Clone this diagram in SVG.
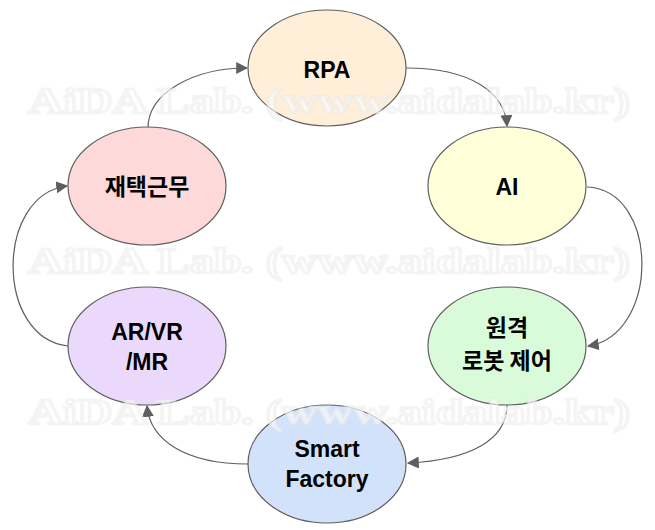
<svg xmlns="http://www.w3.org/2000/svg" width="655" height="530" viewBox="0 0 655 530">
<style>
.node{stroke:#5f5f5f;stroke-width:1.2}
.lbl{font-family:"Liberation Sans","Noto Sans CJK KR",Arial,sans-serif;font-weight:bold;font-size:23px;fill:#000;text-anchor:middle}
.ko{font-family:"Noto Sans CJK KR","Liberation Sans",sans-serif;font-size:23px}
.edge{fill:none;stroke:#5f5f5f;stroke-width:1.2;marker-end:url(#arr)}
.wm{font-family:"Liberation Serif","DejaVu Serif",serif;font-weight:bold;font-size:36px;fill:#ffffff;fill-opacity:0.6;stroke:#e9e9e9;stroke-opacity:0.5;stroke-width:2.5}
</style>
<defs>
<marker id="arr" viewBox="0 0 10 10" refX="9" refY="5" markerWidth="12" markerHeight="12" markerUnits="userSpaceOnUse" orient="auto">
<path d="M0,0 L10,5 L0,10 z" fill="#5f5f5f"/>
</marker>
</defs>
<rect width="655" height="530" fill="#ffffff"/>
<g id="connectors">
<path class="edge" d="M148,128 C148,92 195,68 247,68"/>
<path class="edge" d="M406,68 C470,68 505,92 507,126"/>
<path class="edge" d="M587,187 C660,190 660,335 588,346"/>
<path class="edge" d="M507,405 C507,440 470,460 408,463"/>
<path class="edge" d="M248,464 C185,464 150,440 147,406"/>
<path class="edge" d="M68,346 C-5,338 -5,195 67,186"/>
</g>
<g id="node-rpa">
<ellipse class="node" cx="327" cy="68" rx="79" ry="58" fill="#ffefd8"/>
<text class="lbl" x="327" y="78">RPA</text>
</g>
<g id="node-ai">
<ellipse class="node" cx="507" cy="186" rx="79" ry="59" fill="#ffffd9"/>
<text class="lbl" x="507" y="195">AI</text>
</g>
<g id="node-robot">
<ellipse class="node" cx="507" cy="346" rx="79" ry="59" fill="#d9fbd9"/>
<text class="lbl ko" x="507" y="336">원격</text>
<text class="lbl ko" x="507" y="369">로봇 제어</text>
</g>
<g id="node-smartfactory">
<ellipse class="node" cx="327" cy="464" rx="79" ry="59" fill="#d3e2fb"/>
<text class="lbl" x="327" y="457">Smart</text>
<text class="lbl" x="327" y="487">Factory</text>
</g>
<g id="node-arvr">
<ellipse class="node" cx="147" cy="346" rx="79" ry="59" fill="#ead9fb"/>
<text class="lbl" x="147" y="340">AR/VR</text>
<text class="lbl" x="147" y="370">/MR</text>
</g>
<g id="node-home">
<ellipse class="node" cx="147" cy="186" rx="79" ry="59" fill="#fdd9d9"/>
<text class="lbl ko" x="147" y="195">재택근무</text>
</g>
<g id="watermark">
<text class="wm" x="28" y="113" textLength="602" lengthAdjust="spacingAndGlyphs">AiDA Lab. (www.aidalab.kr)</text>
<text class="wm" x="28" y="273" textLength="602" lengthAdjust="spacingAndGlyphs">AiDA Lab. (www.aidalab.kr)</text>
<text class="wm" x="28" y="424" textLength="602" lengthAdjust="spacingAndGlyphs">AiDA Lab. (www.aidalab.kr)</text>
</g>
</svg>
